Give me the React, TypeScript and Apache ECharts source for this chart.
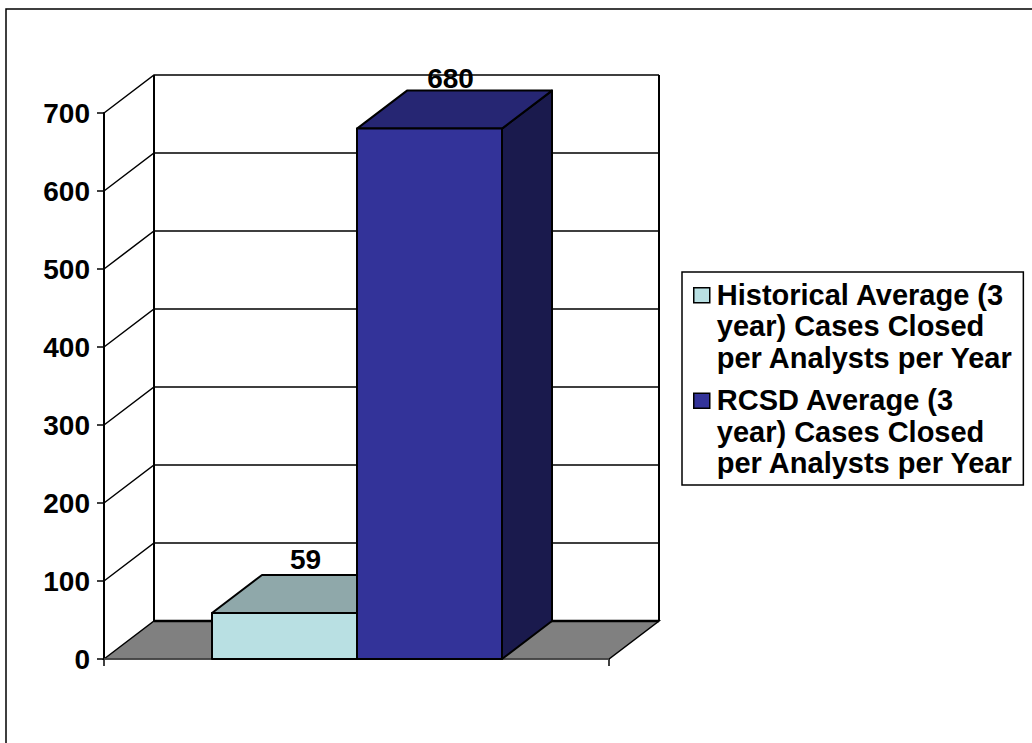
import React, { useEffect, useRef } from "react";
import * as echarts from "echarts";

const categories = [""];
const yTicks = [0, 100, 200, 300, 400, 500, 600, 700];
const seriesNames = [
  "Historical Average (3\nyear) Cases Closed\nper Analysts per Year",
  "RCSD Average (3\nyear) Cases Closed\nper Analysts per Year",
];
const historicalValues = [59];
const rcsdValues = [680];

const FONT = '"Liberation Sans", Arial, sans-serif';
const DX = 50;
const DY = 38;
const GAP = 108;
const BAR_W = 145;
const LINE = "#000";

function App() {
  const ref = useRef<HTMLDivElement>(null);
  useEffect(() => {
    const chart = echarts.init(ref.current!, undefined, { renderer: "svg" });

    const wallItem = (params: any, api: any) => {
      const cs = params.coordSys;
      const y = api.coord([0, api.value(1)])[1];
      const x0 = cs.x;
      const x1 = cs.x + cs.width;
      return {
        type: "polyline",
        shape: { points: [[x0, y], [x0 + DX, y - DY], [x1 + DX, y - DY]] },
        style: { stroke: LINE, lineWidth: 1.5, fill: "none" },
        silent: true,
      };
    };

    const floorItem = (params: any, api: any) => {
      const cs = params.coordSys;
      const y0 = api.coord([0, 0])[1];
      const yt = api.coord([0, yTicks[yTicks.length - 1]])[1];
      const x0 = cs.x;
      const x1 = cs.x + cs.width;
      return {
        type: "group",
        silent: true,
        children: [
          {
            type: "polygon",
            shape: { points: [[x0, y0], [x0 + DX, y0 - DY], [x1 + DX, y0 - DY], [x1, y0]] },
            style: { fill: "#808080", stroke: LINE, lineWidth: 1.5 },
          },
          { type: "line", shape: { x1: x0 + DX, y1: y0 - DY, x2: x1 + DX, y2: y0 - DY }, style: { stroke: LINE, lineWidth: 2.5 } },
          { type: "line", shape: { x1: x0 + DX, y1: y0 - DY, x2: x0 + DX, y2: yt - DY }, style: { stroke: LINE, lineWidth: 2 } },
          { type: "line", shape: { x1: x1 + DX, y1: y0 - DY, x2: x1 + DX, y2: yt - DY }, style: { stroke: LINE, lineWidth: 2 } },
          { type: "line", shape: { x1: x0, y1: y0, x2: x1, y2: y0 }, style: { stroke: "#555", lineWidth: 1.5 } },
        ],
      };
    };

    const barItem = (index: number, front: string, top: string, side: string, labelDy: number) => (params: any, api: any) => {
      const cs = params.coordSys;
      const val = api.value(1);
      const y0 = api.coord([0, 0])[1];
      const y = api.coord([0, val])[1];
      const l = cs.x + GAP + index * BAR_W;
      const r = l + BAR_W;
      const stroke = { stroke: LINE, lineWidth: 2, lineJoin: "round" };
      return {
        type: "group",
        silent: true,
        children: [
          { type: "polygon", shape: { points: [[r, y0], [r + DX, y0 - DY], [r + DX, y - DY], [r, y]] }, style: { fill: side, ...stroke } },
          { type: "polygon", shape: { points: [[l, y], [l + DX, y - DY], [r + DX, y - DY], [r, y]] }, style: { fill: top, ...stroke } },
          { type: "rect", shape: { x: l, y, width: BAR_W, height: y0 - y }, style: { fill: front, ...stroke } },
          {
            type: "text",
            x: (l + r) / 2 + DX / 2 - 4,
            y: y - DY - labelDy,
            style: { text: String(val), font: `bold 28px ${FONT}`, fill: "#000", align: "center", verticalAlign: "middle" },
          },
        ],
      };
    };

    chart.setOption({
      animation: false,
      backgroundColor: "#fff",
      graphic: [
        {
          type: "polyline",
          z: -10,
          shape: { points: [[6, 743], [6, 9], [1032, 9]] },
          style: { fill: "none", stroke: "#000", lineWidth: 1.5 },
          silent: true,
        },
      ],
      grid: { left: 104, top: 113, width: 505, height: 546, containLabel: false },
      xAxis: {
        type: "category",
        data: categories,
        axisLine: { show: false },
        axisTick: { show: true, length: 7, alignWithLabel: false, lineStyle: { color: "#000", width: 1.5 } },
        axisLabel: { show: false },
      },
      yAxis: {
        type: "value",
        min: 0,
        max: 700,
        interval: 100,
        splitLine: { show: false },
        axisLine: { show: true, lineStyle: { color: "#000", width: 2 } },
        axisTick: { show: true, length: 7, lineStyle: { color: "#000", width: 1.5 } },
        axisLabel: { color: "#000", fontFamily: FONT, fontWeight: "bold", fontSize: 28, margin: 14 },
      },
      legend: {
        show: true,
        orient: "vertical",
        left: 682,
        top: 272,
        padding: [6, 10, 5, 11],
        itemGap: 9,
        itemWidth: 18,
        itemHeight: 95,
        align: "left",
        backgroundColor: "#fff",
        borderColor: "#000",
        borderWidth: 1.5,
        data: seriesNames.map((name) => ({ name, icon: "path://M0 0M0 9H16V24H0Z M18 95" })),
        selectedMode: false,
        itemStyle: { borderColor: "#000", borderWidth: 1.5 },
        textStyle: { color: "#000", fontFamily: FONT, fontWeight: "bold", fontSize: 29, lineHeight: 31.7 },
      },
      series: [
        {
          name: "floor",
          type: "custom",
          renderItem: floorItem,
          data: [[0, 0]],
          z: 1,
        },
        {
          name: "walls",
          type: "custom",
          renderItem: wallItem,
          data: yTicks.slice(1).map((t) => [0, t]),
          z: 1,
        },
        {
          name: seriesNames[0],
          type: "custom",
          renderItem: barItem(0, "#B9E0E3", "#8FA8AA", "#5D7072", 15),
          itemStyle: { color: "#B9E0E3" },
          data: historicalValues.map((v, i) => [i, v]),
          z: 3,
        },
        {
          name: seriesNames[1],
          type: "custom",
          renderItem: barItem(1, "#333399", "#262673", "#1A1A4D", 12),
          itemStyle: { color: "#333399" },
          data: rcsdValues.map((v, i) => [i, v]),
          z: 4,
        },
      ],
    });
    return () => chart.dispose();
  }, []);
  return (
    <div
      ref={ref}
      style={{ position: "absolute", left: 0, top: 0, width: 1032, height: 743 }}
    />
  );
}

export default App;
